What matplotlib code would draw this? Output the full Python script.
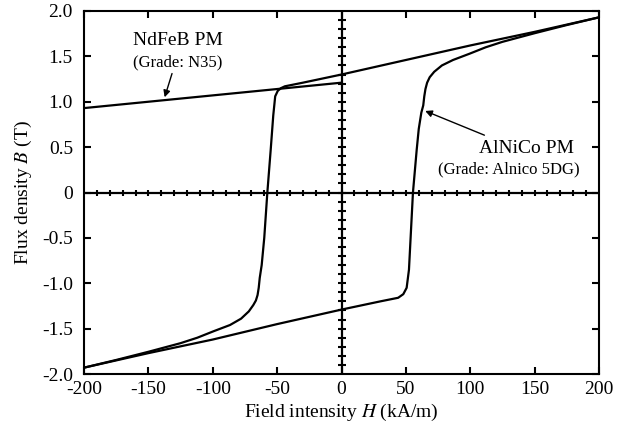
import numpy as np
import matplotlib
matplotlib.use('Agg')
import matplotlib.pyplot as plt

plt.rcParams['font.family'] = ['Liberation Serif', 'DejaVu Serif']
plt.rcParams['mathtext.fontset'] = 'stix'
plt.rcParams['axes.unicode_minus'] = False

# AlNiCo loop, descending branch (from +H saturation to -H)
h_down = [200, 150, 100, 50, 0, -30, -44, -47, -49.5, -51.5, -53, -55, -57.6, -60, -62, -63.5,
          -64.3, -65.2, -66.5, -68.5, -72, -78, -86.6, -99.6, -112, -125, -150, -175, -200]
b_down = [1.93, 1.77, 1.62, 1.46, 1.30, 1.21, 1.17, 1.15, 1.12, 1.06, 0.85, 0.47, 0.0, -0.50, -0.80, -0.94,
          -1.05, -1.13, -1.19, -1.24, -1.31, -1.39, -1.46, -1.53, -1.60, -1.66, -1.755, -1.845, -1.93]
# ascending branch (from -H saturation to +H)
h_up = [-200, -150, -100, -50, 0, 30, 44, 48, 50.6, 52.4, 54, 55.5, 58.4, 60, 62, 63.5,
        64.3, 65.2, 66.5, 68.5, 72, 78, 86.6, 99.6, 112, 125, 150, 175, 200]
b_up = [-1.93, -1.77, -1.62, -1.45, -1.29, -1.20, -1.16, -1.12, -1.05, -0.85, -0.41, 0.0, 0.47, 0.70, 0.88, 0.96,
        1.06, 1.14, 1.21, 1.27, 1.33, 1.40, 1.46, 1.53, 1.60, 1.66, 1.755, 1.845, 1.93]

# NdFeB demagnetisation line (2nd quadrant)
h_ndfeb = [-200, 0]
b_ndfeb = [0.93, 1.21]

x_ticks = [-200, -150, -100, -50, 0, 50, 100, 150, 200]
y_ticks = [-2.0, -1.5, -1.0, -0.5, 0, 0.5, 1.0, 1.5, 2.0]
y_labels = ['-2.0', '-1.5', '-1.0', '-0.5', '0', '0.5', '1.0', '1.5', '2.0']

fig = plt.figure(figsize=(6.35, 4.34), dpi=100)
ax = fig.add_axes([0.1323, 0.1382, 0.8110, 0.8365])

lw = 1.6
ax.plot(h_down, b_down, color='black', lw=lw)
ax.plot(h_up, b_up, color='black', lw=lw)
ax.plot(h_ndfeb, b_ndfeb, color='black', lw=lw)

# crosshair through the origin with small ticks
ax.axhline(0, color='black', lw=1.6, zorder=1)
ax.axvline(0, color='black', lw=1.6, zorder=1)
hx = np.arange(-190, 200, 10)
ax.plot(hx, np.zeros_like(hx), ls='none', marker='|', ms=5, mew=1.5, color='black', clip_on=False)
by = np.round(np.arange(-1.9, 2.0, 0.1), 2)
ax.plot(np.zeros_like(by), by, ls='none', marker='_', ms=5.5, mew=1.5, color='black', clip_on=False)

ax.set_xlim(-200, 200)
ax.set_ylim(-2.0, 2.0)
ax.set_xticks(x_ticks)
ax.set_xticklabels([str(v) for v in x_ticks])
ax.set_yticks(y_ticks)
ax.set_yticklabels(y_labels)
ax.tick_params(direction='in', length=5, width=1.5, labelsize=14, top=True, right=True)
ax.tick_params(axis='x', pad=5)
ax.tick_params(axis='y', pad=8)
for s in ax.spines.values():
    s.set_linewidth(1.5)

ax.set_xlabel('Field intensity $H$ (kA/m)', fontsize=14, labelpad=3)
ax.set_ylabel('Flux density $B$ (T)', fontsize=14, labelpad=6)

ax.text(-127, 1.67, 'NdFeB PM', fontsize=14, ha='center', va='center')
ax.text(-127, 1.43, '(Grade: N35)', fontsize=12, ha='center', va='center')
ax.annotate('', xy=(-138, 1.02), xytext=(-131, 1.34),
            arrowprops=dict(arrowstyle='-|>', color='black', lw=1.0, mutation_scale=10))

ax.text(144, 0.49, 'AlNiCo PM', fontsize=14, ha='center', va='center')
ax.text(130, 0.25, '(Grade: Alnico 5DG)', fontsize=12, ha='center', va='center')
ax.annotate('', xy=(63, 0.91), xytext=(113, 0.62),
            arrowprops=dict(arrowstyle='-|>', color='black', lw=1.0, mutation_scale=10))

fig.savefig('out.png', dpi=100)
